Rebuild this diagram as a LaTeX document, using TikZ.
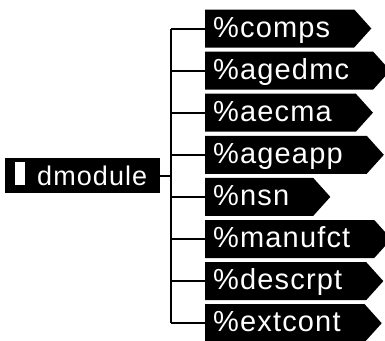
\documentclass[tikz,border=0pt]{standalone}
\usepackage{fontspec}
\usetikzlibrary{shapes.symbols}
\newfontfamily\tagface[LetterSpace=4]{Liberation Sans}
\newfontfamily\rootface[LetterSpace=4]{Liberation Sans}
\begin{document}
\begin{tikzpicture}[x=1pt,y=-1pt,
  tagbox/.style={signal, signal to=east, signal pointer angle=96,
    fill=black, text=white, anchor=west,
    font=\tagface\fontsize{29pt}{32pt}\selectfont,
    inner xsep=8pt, inner ysep=0pt, text height=27pt, text depth=10pt,
    minimum height=38pt},
  rootbox/.style={rectangle, fill=black, text=white, anchor=base west,
    font=\rootface\fontsize{27pt}{30pt}\selectfont,
    inner sep=0pt, text height=27pt, text depth=8pt},
  wire/.style={line width=2pt, black}]
\useasboundingbox (0,0) rectangle (385,340);

% root element
\node[rootbox] (root) at (5,185)
  {\hspace*{10pt}\rule{10pt}{23pt}\hspace*{12pt}dmodule\hspace*{13pt}};

% child elements, one per row
\foreach \name/\label [count=\i from 0] in
  {c1/comps, c2/agedmc, c3/aecma, c4/ageapp, c5/nsn, c6/manufct, c7/descrpt, c8/extcont}
{
  \coordinate (j\name) at (171, 28.5+42.1*\i);
  \node[tagbox] (\name) at (205, 28.5+42.1*\i) {\%\label\hspace*{16pt}};
  \draw[wire] (j\name) -- (\name.west);
}

% trunk and root stub
\draw[wire] (jc1) -- (jc8);
\draw[wire] (root.east) -- (root.east -| jc1);
\end{tikzpicture}
\end{document}
